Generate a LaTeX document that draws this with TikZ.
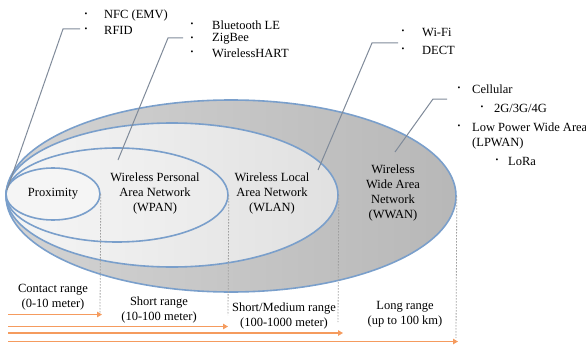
\documentclass[tikz,border=0pt]{standalone}
\usepackage{fontspec}
\setmainfont{Liberation Serif}
\usetikzlibrary{shapes.geometric,arrows.meta}
\definecolor{rim}{HTML}{7A9FCB}
\definecolor{leader}{HTML}{7F8A99}
\definecolor{rangeorange}{HTML}{F59B5E}
\tikzset{
  zone/.style={ellipse, inner sep=0pt, draw=rim, line width=1.6pt},
  lbl/.style={align=center, inner sep=0pt, font=\fontsize{12.5}{15}\selectfont},
  itm/.style={anchor=west, inner sep=0pt, font=\fontsize{12.5}{15}\selectfont},
  dot/.style={inner sep=0pt, font=\fontsize{8}{8}\selectfont},
  leaderline/.style={draw=leader, line width=1pt},
  reach/.style={draw=gray!75, line width=0.8pt, dash pattern=on 1.5pt off 1.5pt},
  span/.style={draw=rangeorange, line width=1.6pt, -{Triangle[length=5pt,width=5.5pt]}},
}
\begin{document}
\begin{tikzpicture}[x=1pt, y=-1pt]
\useasboundingbox (0,0) rectangle (586,345);

% nested coverage zones
\node[zone, minimum width=450pt, minimum height=192pt, left color=black!17, right color=black!28] (wwan) at (231,196) {};
\node[zone, minimum width=332pt, minimum height=144pt, left color=black!4, right color=black!12] (wlan) at (172,195) {};
\node[zone, minimum width=222pt, minimum height=94pt, left color=black!4, right color=black!8] (wpan) at (117,195) {};
\node[zone, minimum width=94pt, minimum height=52pt, fill=black!4] (prox) at (53,194) {};

% zone labels
\node[lbl] (tprox) at (53,194) {Proximity};
\node[lbl] (twpan) at (155,193) {Wireless Personal\\Area Network\\(WPAN)};
\node[lbl] (twlan) at (272,193) {Wireless Local\\Area Network\\(WLAN)};
\node[lbl] (twwan) at (393,193) {Wireless\\Wide Area\\Network\\(WWAN)};

% technology lists
\node[dot] (b1) at (86,15) {•};  \node[itm] (nfc) at (104,15) {NFC (EMV)};
\node[dot] (b2) at (86,30) {•};  \node[itm] (rfid) at (104,30) {RFID};
\node[dot] (b3) at (192,25) {•}; \node[itm] (ble) at (212,25) {Bluetooth LE};
\node[dot] (b4) at (192,39) {•}; \node[itm] (zig) at (212,39) {ZigBee};
\node[dot] (b5) at (192,53) {•}; \node[itm] (whart) at (212,53) {WirelessHART};
\node[dot] (b6) at (403,32) {•}; \node[itm] (wifi) at (422,32) {Wi-Fi};
\node[dot] (b7) at (403,50) {•}; \node[itm] (dect) at (422,50) {DECT};
\node[dot] (b8) at (459,89) {•}; \node[itm] (cell) at (472,89) {Cellular};
\node[dot] (b9) at (482,108) {•}; \node[itm] (gen) at (494,108) {2G/3G/4G};
\node[dot] (b10) at (459,127) {•}; \node[itm] (lpw) at (472,127) {Low Power Wide Area};
\node[itm] (lpwan) at (472,143) {(LPWAN)};
\node[dot] (b11) at (497,161) {•}; \node[itm] (lora) at (508,161) {LoRa};

% leader lines from lists into zones
\coordinate (p1) at (7,190);   \coordinate (k1) at (63,29);  \coordinate (e1) at (80,29);
\coordinate (p2) at (118,160); \coordinate (k2) at (168,38); \coordinate (e2) at (183,38);
\coordinate (p3) at (318,170); \coordinate (k3) at (372,43); \coordinate (e3) at (398,43);
\coordinate (p4) at (395,152); \coordinate (k4) at (433,99); \coordinate (e4) at (447,99);
\draw[leaderline] (p1) -- (k1) -- (e1);
\draw[leaderline] (p2) -- (k2) -- (e2);
\draw[leaderline] (p3) -- (k3) -- (e3);
\draw[leaderline] (p4) -- (k4) -- (e4);

% reach markers
\coordinate (r1) at (100,313);
\coordinate (r2) at (228,315);
\coordinate (r3) at (338,322);
\coordinate (r4) at (456,338);
\draw[reach] (prox.east) -- (r1);
\draw[reach] (wpan.east) -- (r2);
\draw[reach] (wlan.east) -- (r3);
\draw[reach] (wwan.east) -- (r4);

% range arrows
\coordinate (s1) at (8,314.5); \coordinate (f1) at (102,314.5);
\coordinate (s2) at (8,326.5); \coordinate (f2) at (228,326.5);
\coordinate (s3) at (8,333);   \coordinate (f3) at (343,333);
\coordinate (s4) at (8,341.5); \coordinate (f4) at (458,341.5);
\draw[span] (s1) -- (f1);
\draw[span] (s2) -- (f2);
\draw[span] (s3) -- (f3);
\draw[span] (s4) -- (f4);

% range labels
\node[lbl] (contact) at (53,297.5) {Contact range\\(0-10 meter)};
\node[lbl] (short) at (159,310) {Short range\\(10-100 meter)};
\node[lbl] (medium) at (284,316) {Short/Medium range\\(100-1000 meter)};
\node[lbl] (long) at (405,314.5) {Long range\\(up to 100 km)};
\end{tikzpicture}
\end{document}
